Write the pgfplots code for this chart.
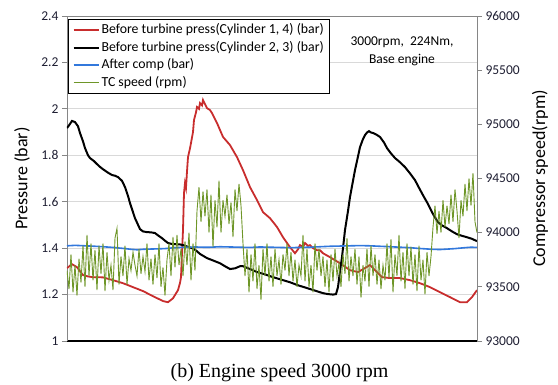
\documentclass[border=0pt]{standalone}
\usepackage{fontspec}
\setmainfont{Carlito}
\newfontfamily\timesfont{Liberation Serif}
\usepackage{pgfplots}
\usepackage{pgfplotstable}
\pgfplotsset{compat=1.18}
\definecolor{cred}{RGB}{200,45,45}
\definecolor{cblue}{RGB}{50,120,220}
\definecolor{cgreen}{RGB}{110,150,40}
\definecolor{tickc}{RGB}{30,30,50}
\definecolor{axgray}{RGB}{134,134,134}
\definecolor{gridc}{RGB}{217,217,217}

\pgfplotstableread{
x p
67 1.314
72 1.331
77 1.318
83 1.284
88 1.278
93 1.275
103 1.274
113 1.262
123 1.249
133 1.232
143 1.215
153 1.193
163 1.172
168 1.167
173 1.184
178 1.219
180 1.250
181 1.275
182 1.380
183 1.478
184 1.637
185 1.680
186 1.660
187 1.730
188 1.792
190 1.830
191 1.853
193 1.900
194 1.952
196 1.985
197 2.008
199 2.000
200 2.025
202 2.015
203 2.038
205 2.020
207 2.003
210 1.995
212 1.982
217 1.939
223 1.879
230 1.844
237 1.792
243 1.736
250 1.663
257 1.607
263 1.555
270 1.529
277 1.491
283 1.447
290 1.404
295 1.378
298 1.395
300 1.413
303 1.405
305 1.422
308 1.410
310 1.413
313 1.400
317 1.391
320 1.391
323 1.378
330 1.361
340 1.335
350 1.305
358 1.297
365 1.314
370 1.327
375 1.305
382 1.275
390 1.271
400 1.271
410 1.262
420 1.249
430 1.232
440 1.210
450 1.189
460 1.167
467 1.167
472 1.189
477 1.219
}\redtab

\pgfplotstableread{
x p
67 1.917
70 1.935
72 1.948
75 1.943
78 1.925
80 1.896
83 1.860
85 1.831
88 1.800
90 1.788
94 1.775
97 1.762
100 1.750
103 1.740
108 1.725
112 1.715
115 1.712
118 1.706
122 1.690
125 1.663
128 1.625
130 1.594
135 1.529
140 1.482
143 1.472
147 1.469
151 1.468
155 1.465
158 1.455
162 1.443
165 1.432
168 1.422
172 1.418
175 1.417
180 1.416
183 1.413
187 1.407
192 1.400
196 1.390
200 1.375
207 1.357
213 1.347
220 1.335
225 1.322
230 1.310
235 1.313
240 1.322
243 1.322
250 1.310
257 1.297
265 1.287
273 1.275
280 1.266
290 1.253
298 1.240
307 1.228
315 1.217
323 1.206
328 1.202
333 1.200
336 1.202
338 1.232
340 1.300
342 1.361
345 1.478
348 1.560
350 1.620
353 1.690
355 1.736
358 1.795
360 1.835
363 1.870
365 1.887
367 1.898
369 1.904
371 1.898
373 1.896
376 1.890
380 1.879
384 1.855
387 1.831
391 1.808
395 1.788
400 1.770
405 1.749
410 1.722
415 1.693
419 1.660
423 1.628
428 1.590
432 1.555
435 1.532
438 1.512
442 1.498
447 1.486
452 1.472
457 1.460
462 1.453
467 1.447
472 1.440
477 1.430
}\blacktab

\pgfplotstableread{
x p
67 1.410
75 1.412
80 1.411
90 1.409
95 1.408
103 1.406
110 1.404
118 1.401
125 1.398
131 1.395
137 1.393
143 1.395
150 1.396
158 1.397
165 1.398
172 1.401
180 1.403
188 1.404
195 1.405
203 1.404
210 1.404
220 1.406
230 1.405
240 1.404
250 1.403
260 1.405
270 1.404
280 1.403
290 1.402
300 1.403
310 1.404
320 1.406
330 1.408
340 1.409
350 1.410
360 1.411
370 1.410
380 1.408
390 1.406
400 1.404
410 1.402
418 1.399
425 1.397
432 1.395
440 1.394
448 1.396
455 1.398
465 1.402
471 1.404
477 1.403
}\bluetab

\pgfplotstableread{
x rpm
67 93650
69 93480
71 93800
73 93450
75 93700
77 93420
79 93760
81 93540
83 93880
85 93500
87 93980
89 93600
91 93900
93 93560
95 93840
97 93470
99 93880
101 93620
103 93900
105 93460
107 93820
109 93560
111 93700
113 93470
115 93950
117 94040
119 93520
121 93780
123 93600
125 93880
127 93520
129 93760
131 93650
133 93820
135 93700
137 93600
139 93850
141 93620
143 93780
145 93640
147 93900
149 93560
151 93760
153 93520
155 93800
157 93580
159 93900
161 93500
163 93680
165 93420
167 93750
169 93900
171 93600
173 93960
175 93680
177 93980
179 93700
181 93850
183 93600
185 93920
187 93700
189 94000
191 93560
193 93900
195 93650
197 94200
199 94420
201 94100
203 94380
205 94150
207 94400
209 94000
211 94350
213 93870
215 94300
217 94050
219 94480
221 94000
223 94300
225 94150
227 94350
229 94080
231 94280
233 93960
235 94400
237 94200
239 94450
241 94250
243 93900
245 93600
247 93850
249 93450
251 93800
253 93550
255 93900
257 93480
259 93700
261 93380
263 93850
265 93600
267 93900
269 93550
271 93780
273 93500
275 93850
277 93600
279 93750
281 93520
283 93800
285 93650
287 93900
289 93600
291 93820
293 93550
295 93750
297 93500
299 93700
301 93600
303 93980
305 93550
307 93850
309 93500
311 93700
313 93450
315 93900
317 93650
319 93850
321 93600
323 93780
325 93500
327 93750
329 93450
331 93800
333 93550
335 93850
337 93600
339 93720
341 93500
343 93800
345 93620
347 93950
349 93550
351 93780
353 93600
355 93850
357 93520
359 93780
361 93400
363 93700
365 93550
367 93850
369 93500
371 93880
373 93600
375 93800
377 93520
379 93750
381 93480
383 93700
385 93560
387 93900
389 93580
391 93940
393 93450
395 93800
397 93600
399 93980
401 93550
403 93820
405 93480
407 93900
409 93600
411 93870
413 93520
415 93800
417 93460
419 93880
421 93560
423 93750
425 93430
427 93820
429 93600
431 93780
433 94050
435 94250
437 93990
439 94200
441 94000
443 94300
445 94050
447 94250
449 94080
451 94350
453 94100
455 94400
457 94200
459 93950
461 94300
463 94150
465 94450
467 94200
469 94500
471 94250
473 94550
475 94100
477 94000
}\greentab

\pgfplotsset{
  common/.style={
    scale only axis, width=410pt, height=325pt,
    xmin=67, xmax=477, xtick=\empty,
    tick align=outside, major tick length=5pt,
    tick style={axgray, line width=0.8pt},
    /pgf/number format/assume math mode=true,
    ticklabel style={font=\fontsize{13.5}{16}\selectfont, text=tickc},
  }
}

\begin{document}
\begin{tikzpicture}
\path[use as bounding box] (-67pt,-44pt) rectangle (491pt,341pt);
\begin{axis}[common,
  ymin=1, ymax=2.4,
  ytick={1,1.2,1.4,1.6,1.8,2,2.2,2.4},
  axis x line*=bottom, axis y line*=left,
  x axis line style={black, line width=1.2pt},
  y axis line style={axgray, line width=0.8pt},
  ymajorgrids, grid style={gridc, line width=0.8pt},
  ylabel={Pressure (bar)},
  every axis y label/.style={at={(axis description cs:-0.1098,0.5)}, rotate=90, anchor=center, font=\fontsize{18}{21}\selectfont},
  legend style={at={(rel axis cs:0.0024,0.991)}, anchor=north west, draw=black, line width=1.2pt,
    font=\fontsize{13.8}{16}\selectfont, inner xsep=4pt, inner ysep=2pt,
    nodes={text height=10pt, text depth=3.5pt}},
  legend cell align=left,
  legend image code/.code={\draw[#1] (0pt,0pt) -- (25pt,0pt);},
]
\addplot[cred, line width=1.8pt] table[x=x,y=p] {\redtab};
\addlegendentry{Before turbine press(Cylinder 1, 4) (bar)}
\addplot[black, line width=2pt] table[x=x,y=p] {\blacktab};
\addlegendentry{Before turbine press(Cylinder 2, 3) (bar)}
\addplot[cblue, line width=1.6pt] table[x=x,y=p] {\bluetab};
\addlegendentry{After comp (bar)}
\addlegendimage{cgreen, line width=1.2pt}
\addlegendentry{TC speed (rpm)}
\node[align=center, font=\fontsize{13.5}{18}\selectfont] at (axis cs:402,2.25) {3000rpm,\ \ 224Nm,\\Base engine};
\end{axis}
\begin{axis}[common,
  ymin=93000, ymax=96000,
  ytick={93000,93500,94000,94500,95000,95500,96000},
  scaled y ticks=false,
  axis y line*=right, axis x line*=top,
  axis line style={axgray, line width=0.8pt},
  /pgf/number format/fixed,
  /pgf/number format/1000 sep={},
  ylabel={Compressor speed(rpm)},
  every axis y label/.style={at={(axis description cs:1.1537,0.5)}, rotate=90, anchor=center, font=\fontsize{18}{21}\selectfont},
]
\addplot[cgreen, line width=0.9pt] table[x=x,y=rpm] {\greentab};
\end{axis}
\node[font=\timesfont\fontsize{20}{24}\selectfont] at (212.5pt,-32pt) {(b) Engine speed 3000 rpm};
\end{tikzpicture}
\end{document}
